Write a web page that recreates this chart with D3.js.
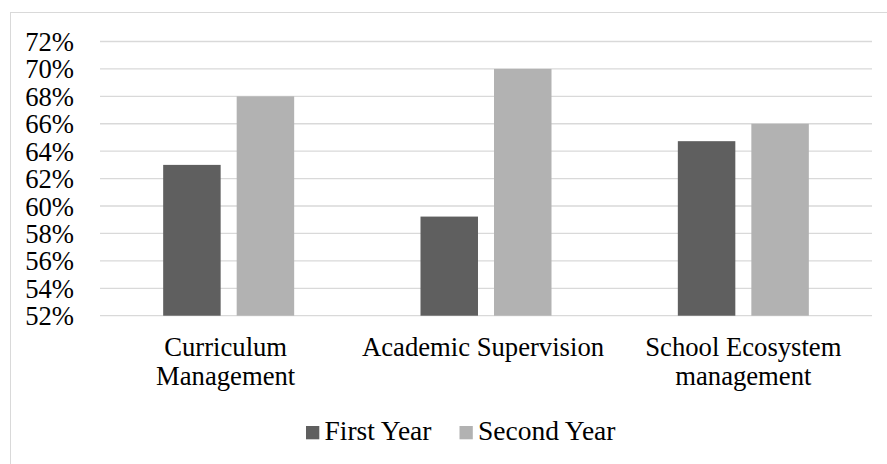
<!DOCTYPE html>
<html>
<head>
<meta charset="utf-8">
<script src="https://cdn.jsdelivr.net/npm/d3@7/dist/d3.min.js"></script>
<style>
  html, body { margin: 0; padding: 0; background: #fff; }
  svg { display: block; }
  text { font-family: "Liberation Serif", "Times New Roman", serif; fill: #000; }
</style>
</head>
<body>
<svg id="chart" width="887" height="464"></svg>
<script>
const categories = [["Curriculum", "Management"], ["Academic Supervision"], ["School Ecosystem", "management"]];
const seriesNames = ["First Year", "Second Year"];
const firstYear = [0.63, 0.5923, 0.6473];
const secondYear = [0.68, 0.70, 0.66];
const yTicks = [0.52, 0.54, 0.56, 0.58, 0.60, 0.62, 0.64, 0.66, 0.68, 0.70, 0.72];
const colors = ["#5f5f5f", "#b2b2b2"];

(function () {
const svg = d3.select("#chart");
const W = 887, H = 464;

// chart border
svg.append("rect").attr("x", 10.5).attr("y", 12.5).attr("width", W).attr("height", H)
  .attr("fill", "none").attr("stroke", "#d9d9d9").attr("stroke-width", 1);

const pLeft = 100, pRight = 872, pTop = 41.5, pBottom = 315.7;
const catKeys = categories.map(c => c.join(" "));
const x = d3.scaleBand().domain(catKeys).range([pLeft, pRight]).padding(0);
const y = d3.scaleLinear().domain([0.52, 0.72]).range([pBottom, pTop]);

const bw = x.bandwidth();
const groupW = 131;
const x1 = d3.scaleBand().domain(seriesNames).range([bw / 2 - groupW / 2, bw / 2 + groupW / 2]).paddingInner(0.218);

// gridlines
svg.append("g").selectAll("line").data(yTicks).join("line")
  .attr("x1", pLeft).attr("x2", pRight)
  .attr("y1", d => y(d)).attr("y2", d => y(d))
  .attr("stroke", "#d9d9d9").attr("stroke-width", 1.3);

// y axis labels
const yAxis = d3.axisLeft(y).tickValues(yTicks).tickFormat(d3.format(".0%")).tickSize(0).tickPadding(0);
const ya = svg.append("g").attr("transform", "translate(74,0)").call(yAxis);
ya.select(".domain").remove();
ya.selectAll("text").attr("font-family", "Liberation Serif, Times New Roman, serif")
  .attr("font-size", 26.67).attr("fill", "#000").attr("dy", "0.34em");

// bars
const data = catKeys.map((k, i) => ({ key: k, values: [firstYear[i], secondYear[i]] }));
const g = svg.append("g").selectAll("g").data(data).join("g")
  .attr("transform", d => `translate(${x(d.key)},0)`);
g.selectAll("rect").data(d => d.values.map((v, j) => ({ s: seriesNames[j], v, j }))).join("rect")
  .attr("x", d => x1(d.s)).attr("width", x1.bandwidth())
  .attr("y", d => y(d.v)).attr("height", d => y(0.52) - y(d.v))
  .attr("fill", d => colors[d.j]);

// category labels
const cl = svg.append("g").selectAll("text").data(categories).join("text")
  .attr("text-anchor", "middle")
  .attr("font-size", 26.67)
  .attr("transform", (d, i) => `translate(${x(catKeys[i]) + bw / 2 - (i < 2 ? 3 : 0)},355.5)`);
cl.selectAll("tspan").data(d => d).join("tspan")
  .attr("x", 0).attr("dy", (d, i) => i === 0 ? 0 : 29.5).text(d => d);

// legend
const legendItems = [{ name: seriesNames[0], x: 306, c: colors[0] }, { name: seriesNames[1], x: 459.5, c: colors[1] }];
const lg = svg.append("g").selectAll("g").data(legendItems).join("g")
  .attr("transform", d => `translate(${d.x},0)`);
lg.append("rect").attr("x", 0).attr("y", 426).attr("width", 13.3).attr("height", 13.3).attr("fill", d => d.c);
lg.append("text").attr("x", 18.5).attr("y", 440).attr("font-size", 27.5).text(d => d.name);
})();
</script>
</body>
</html>
